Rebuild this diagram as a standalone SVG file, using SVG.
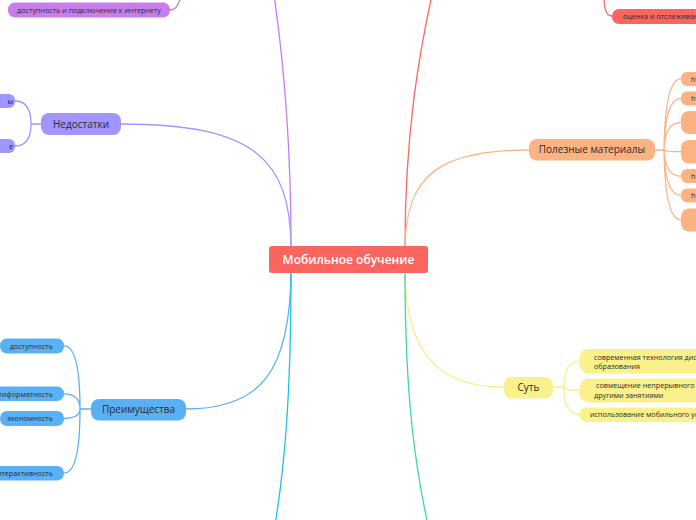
<svg xmlns="http://www.w3.org/2000/svg" width="696" height="520" viewBox="0 0 696 520">
<style>
text{font-family:"Open Sans","Noto Sans","Liberation Sans",sans-serif;fill:#2b2b2b}
.c{fill:none;stroke-width:1.3;stroke-linecap:round}
.t10{font-size:10px}
.t7{font-size:7.2px}
.mid{text-anchor:middle}
.end{text-anchor:end}
</style>
<rect width="696" height="520" fill="#ffffff"/>
<g id="connectors">
  <path class="c" stroke="#C57FE8" d="M291,246 C291,130 282,50 274,-5"/>
  <path class="c" stroke="#C57FE8" d="M170,10 C176,10 178,5 181,-3"/>
  <path class="c" stroke="#FA6860" d="M405,246 C405,130 420,50 432,-5"/>
  <path class="c" stroke="#FA6860" d="M612,16 C606,16 604,8 604,-3"/>
  <path class="c" stroke="#A195FF" d="M291,246 C290,160 255,124 121,124"/>
  <path class="c" stroke="#A195FF" d="M41,124 H31 M31,124 Q31,101 15,101 M31,124 Q31,146 15,146"/>
  <path class="c" stroke="#FDB381" d="M405,246 C406,175 440,150 529,150"/>
  <path class="c" stroke="#FDB381" d="M655,150 H664 M664,150 Q665,78.8 681,78.8 M664,150 Q665,98.4 681,98.4 M664,150 Q665,122.4 681,122.4 M664,150 Q665,151.7 681,151.7 M664,150 Q665,176.2 681,176.2 M664,150 Q665,195.4 681,195.4 M664,150 Q665,220 681,220"/>
  <path class="c" stroke="#5AB0F5" d="M291,273 C290,370 262,409 186,409"/>
  <path class="c" stroke="#5AB0F5" d="M91,409 H80 M80,409 Q80,345.8 64,345.8 M80,409 Q80,393.9 64,393.9 M80,409 Q80,418.3 64,418.3 M80,409 Q80,473.2 64,473.2"/>
  <path class="c" stroke="#F7EE88" d="M405,273 C406,360 445,387 504,387"/>
  <path class="c" stroke="#F7EE88" d="M552,387 H564 M564,387 Q564,361.2 580,361.2 M564,387 Q564,390.3 580,390.3 M564,387 Q564,414.5 580,414.5"/>
  <path class="c" stroke="#1CC6DA" d="M291,273 C291,400 284,470 275,525"/>
  <path class="c" stroke="#3FD8A0" d="M405,273 C405,400 416,470 428,525"/>
</g>
<g id="center">
  <rect x="269" y="246" width="159" height="27" rx="3" fill="#FA6560"/>
  <text x="348.5" y="264.3" class="mid" style="font-size:12px;font-weight:600;fill:#ffffff">Мобильное обучение</text>
</g>
<g id="purple-child">
  <rect x="8" y="2.5" width="162" height="15" rx="7" fill="#C77DEB"/>
  <text x="89" y="12.6" class="mid t7">доступность и подключение к интернету</text>
</g>
<g id="red-child">
  <rect x="612" y="9" width="120" height="15" rx="7" fill="#FA6560"/>
  <text x="623" y="19" class="t7">оценка и отслеживание результатов</text>
</g>
<g id="nedostatki">
  <rect x="41" y="113" width="80" height="22" rx="8" fill="#A195FF"/>
  <text x="81" y="127.5" class="mid t10">Недостатки</text>
</g>
<g id="ned-child-1">
  <rect x="-60" y="94" width="75" height="14" rx="6" fill="#A195FF"/>
  <text x="13" y="104" class="end t7">ы</text>
</g>
<g id="ned-child-2">
  <rect x="-60" y="139" width="75" height="14" rx="6" fill="#A195FF"/>
  <text x="13" y="149" class="end t7">е</text>
</g>
<g id="poleznye">
  <rect x="529" y="139" width="126" height="21.5" rx="8" fill="#FDB381"/>
  <text x="592" y="153.3" class="mid t10">Полезные материалы</text>
</g>
<g id="pm-1"><rect x="681" y="72" width="60" height="14" rx="6" fill="#FDB381"/><text x="691" y="81.7" class="t7">https://</text></g>
<g id="pm-2"><rect x="681" y="91.5" width="60" height="14" rx="6" fill="#FDB381"/><text x="691" y="101.3" class="t7">https://</text></g>
<g id="pm-3"><rect x="681" y="111" width="60" height="23" rx="8" fill="#FDB381"/></g>
<g id="pm-4"><rect x="681" y="140" width="60" height="23.5" rx="8" fill="#FDB381"/></g>
<g id="pm-5"><rect x="681" y="169" width="60" height="14" rx="6" fill="#FDB381"/><text x="691" y="179" class="t7">https://</text></g>
<g id="pm-6"><rect x="681" y="188.5" width="60" height="14" rx="6" fill="#FDB381"/><text x="691" y="198.3" class="t7">https://</text></g>
<g id="pm-7"><rect x="681" y="208.5" width="60" height="23" rx="8" fill="#FDB381"/></g>
<g id="preimushchestva">
  <rect x="91" y="399" width="95" height="21.5" rx="8" fill="#5AB0F5"/>
  <text x="138.5" y="413.3" class="mid t10">Преимущества</text>
</g>
<g id="pr-1"><rect x="0" y="338.5" width="64" height="15" rx="7" fill="#5AB0F5"/><text x="53" y="348.6" class="end t7">доступность</text></g>
<g id="pr-2"><rect x="-40" y="386.5" width="104" height="14.5" rx="7" fill="#5AB0F5"/><text x="53" y="396.6" class="end t7">мультиформатность</text></g>
<g id="pr-3"><rect x="0" y="411" width="64" height="15" rx="7" fill="#5AB0F5"/><text x="53" y="421" class="end t7">экономность</text></g>
<g id="pr-4"><rect x="-40" y="466" width="104" height="14.5" rx="7" fill="#5AB0F5"/><text x="53" y="476" class="end t7">интерактивность</text></g>
<g id="sut">
  <rect x="504" y="377" width="49" height="21.5" rx="8" fill="#FAF08C"/>
  <text x="528.5" y="391.3" class="mid t10">Суть</text>
</g>
<g id="sut-1"><rect x="579.5" y="349" width="200" height="24.5" rx="9" fill="#FAF08C"/><text x="594" y="359.5" class="t7">современная технология дистанционного</text><text x="594" y="369" class="t7">образования</text></g>
<g id="sut-2"><rect x="579.5" y="378.5" width="200" height="24" rx="9" fill="#FAF08C"/><text x="596" y="388.2" class="t7">совмещение непрерывного учебного процесса с</text><text x="594" y="398" class="t7">другими занятиями</text></g>
<g id="sut-3"><rect x="579.5" y="407.5" width="200" height="14.5" rx="7" fill="#FAF08C"/><text x="590" y="417.4" class="t7">использование мобильного устройства</text></g>
</svg>
